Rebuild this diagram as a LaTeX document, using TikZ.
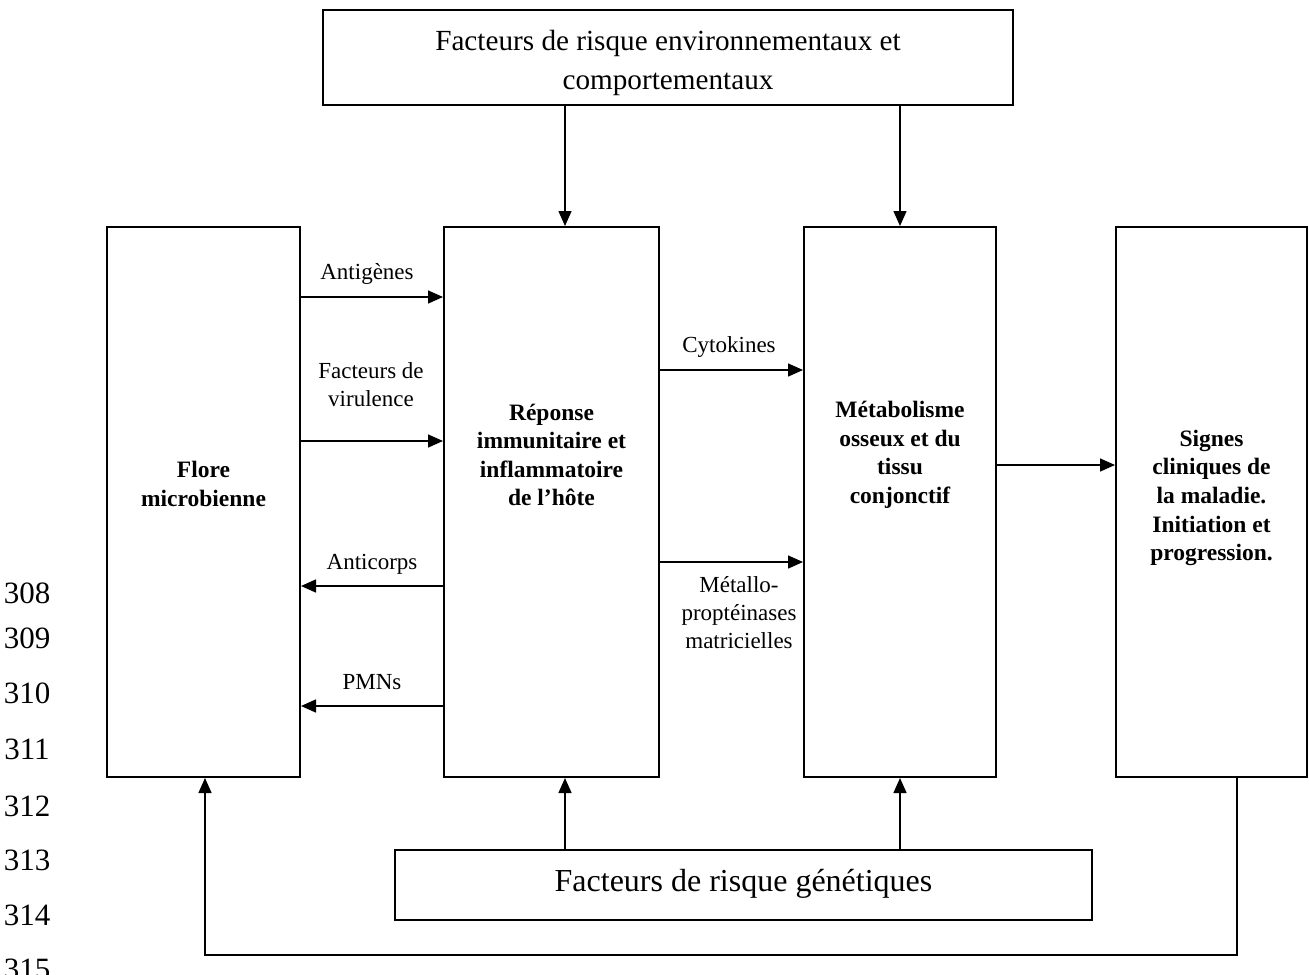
\documentclass[tikz,border=0pt]{standalone}
\usepackage{fontspec}
\setmainfont{Liberation Serif}
\usetikzlibrary{arrows.meta}

\begin{document}
\begin{tikzpicture}[x=0.5pt, y=-0.5pt, line width=0.75pt,
    boite/.style={draw, line width=1pt, inner sep=0pt},
    fleche/.style={-{Triangle[length=7.5pt, width=6.5pt]}},
    etiq/.style={font=\fontsize{11.5}{14}\selectfont, align=center, inner sep=0pt},
    titre/.style={font=\fontsize{11.75}{14.3}\selectfont\bfseries, align=center, inner sep=0pt},
    ligne/.style={font=\fontsize{15.5}{18}\selectfont, inner sep=0pt}]
  \useasboundingbox (0,0) rectangle (1309,974);

  % boites
  \node[boite, minimum width=345pt, minimum height=47.5pt] (env) at (668,57.5) {};
  \node[boite, minimum width=96.5pt, minimum height=275pt] (flore) at (203.5,502) {};
  \node[boite, minimum width=107.5pt, minimum height=275pt] (rep) at (551.5,502) {};
  \node[boite, minimum width=96pt, minimum height=275pt] (meta) at (900,502) {};
  \node[boite, minimum width=95.5pt, minimum height=275pt] (signes) at (1211.5,502) {};
  \node[boite, minimum width=348.5pt, minimum height=35pt] (gen) at (743.5,885) {};

  % textes des boites
  \node[font=\fontsize{14.6}{19.5}\selectfont, align=center, inner sep=0pt] (env-t) at (668,63)
    {Facteurs de risque environnementaux et\\comportementaux};
  \node[font=\fontsize{16}{19}\selectfont, inner sep=0pt] (gen-t) at (743.5,884)
    {Facteurs de risque génétiques};
  \node[titre] (flore-t) at (203.5,484) {Flore\\microbienne};
  \node[titre] (rep-t) at (551.5,455) {Réponse\\immunitaire et\\inflammatoire\\de l’hôte};
  \node[titre] (meta-t) at (900,455) {Métabolisme\\osseux et du\\tissu\\conjonctif};
  \node[titre] (signes-t) at (1211.5,498) {Signes\\cliniques de\\la maladie.\\Initiation et\\progression.};

  % etiquettes des fleches
  \node[etiq] (ag) at (367,274) {Antigènes};
  \node[etiq] (vir) at (371,385) {Facteurs de\\virulence};
  \node[etiq] (ac) at (372,564) {Anticorps};
  \node[etiq] (pmn) at (372,682) {PMNs};
  \node[etiq] (cyto) at (729,347) {Cytokines};
  \node[etiq] (mmp) at (739,613) {Métallo-\\proptéinases\\matricielles};

  % numeros de ligne
  \node[ligne] (l308) at (27,593) {308};
  \node[ligne] (l309) at (27,638) {309};
  \node[ligne] (l310) at (27,693) {310};
  \node[ligne] (l311) at (27,749) {311};
  \node[ligne] (l312) at (27,806) {312};
  \node[ligne] (l313) at (27,860) {313};
  \node[ligne] (l314) at (27,915) {314};
  \node[ligne] (l315) at (27,969) {315};

  % niveaux des fleches
  \coordinate (yag) at (0,297);
  \coordinate (yvir) at (0,441);
  \coordinate (yac) at (0,586);
  \coordinate (ypmn) at (0,706);
  \coordinate (ycyto) at (0,370);
  \coordinate (ymmp) at (0,562);
  \coordinate (ysig) at (0,465);
  \coordinate (xa) at (565,0);
  \coordinate (xb) at (900,0);
  \coordinate (xs) at (1237,0);
  \coordinate (retour) at (205,955);

  \draw[fleche] (flore.east |- yag) -- (rep.west |- yag);
  \draw[fleche] (flore.east |- yvir) -- (rep.west |- yvir);
  \draw[fleche] (rep.west |- yac) -- (flore.east |- yac);
  \draw[fleche] (rep.west |- ypmn) -- (flore.east |- ypmn);
  \draw[fleche] (rep.east |- ycyto) -- (meta.west |- ycyto);
  \draw[fleche] (rep.east |- ymmp) -- (meta.west |- ymmp);
  \draw[fleche] (meta.east |- ysig) -- (signes.west |- ysig);

  \draw[fleche] (env.south -| xa) -- (rep.north -| xa);
  \draw[fleche] (env.south -| xb) -- (meta.north -| xb);
  \draw[fleche] (gen.north -| xa) -- (rep.south -| xa);
  \draw[fleche] (gen.north -| xb) -- (meta.south -| xb);

  \draw[fleche] (signes.south -| xs) |- (retour) -- (flore.south -| retour);
\end{tikzpicture}
\end{document}
